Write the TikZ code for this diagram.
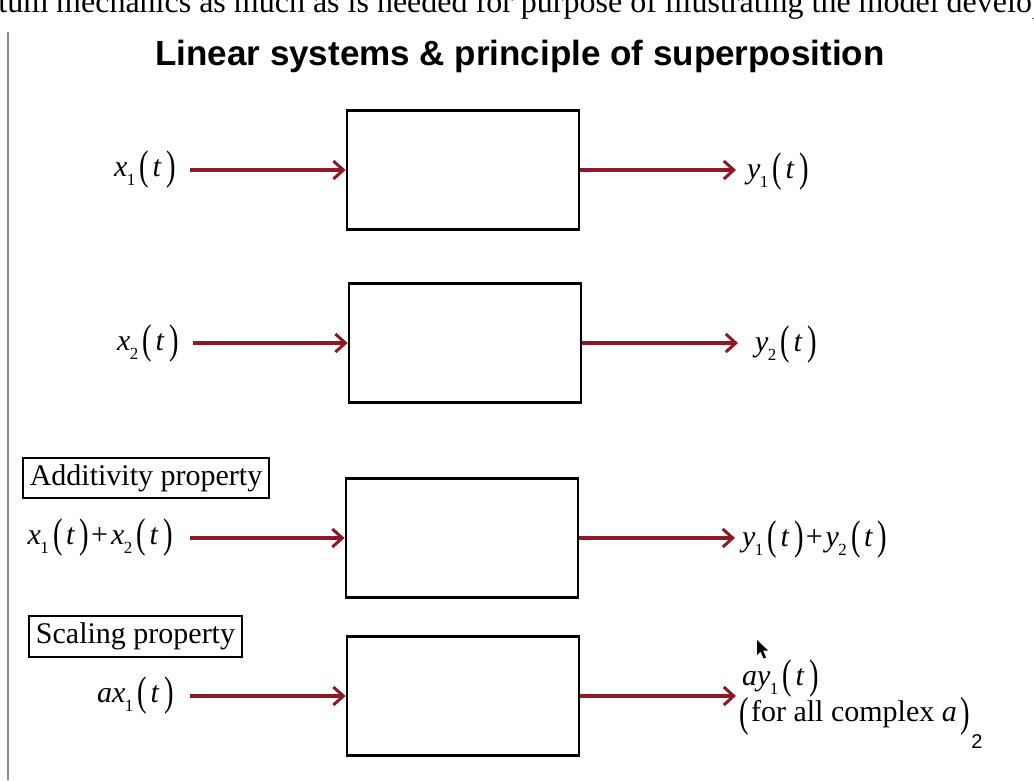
\documentclass[tikz,border=0pt]{standalone}
\usepackage{fontspec}
\usepackage{graphicx}
\setmainfont{Liberation Serif}
\setsansfont{Liberation Sans}
\usetikzlibrary{arrows.meta}
\definecolor{sigred}{HTML}{8B1A26}
\definecolor{edgegray}{HTML}{8A8A8A}
\newcommand{\lpar}{\raisebox{-0.12em}{\scalebox{0.95}[1.38]{(}}}
\newcommand{\rpar}{\raisebox{-0.12em}{\scalebox{0.95}[1.38]{)}}}
\newcommand{\subn}[1]{\raisebox{-0.3em}{\fontsize{17}{17}\selectfont #1}}
\newcommand{\sigf}[2]{\textit{#1}\kern-0.02em\subn{#2}\kern0.14em\lpar\kern0.12em\textit{t}\kern0.16em\rpar}
\newcommand{\plusop}{\kern0.06em+\kern0.1em}
\tikzset{
  sysbox/.style={draw=black, line width=2.8pt, minimum width=232pt, minimum height=119pt, inner sep=0pt},
  proplabel/.style={draw=black, line width=2.2pt, inner sep=0pt, font=\fontsize{30}{30}\selectfont},
  siglabel/.style={inner sep=0pt, font=\fontsize{30}{30}\selectfont},
  sigarrow/.style={draw=sigred, line width=3.6pt, -{Straight Barb[length=10pt,width=18pt,line width=3pt]}},
}
\begin{document}
\begin{tikzpicture}[x=1pt,y=-1pt]
\useasboundingbox (0,0) rectangle (1034,780);
\clip (0,0) rectangle (1034,780);
\fill[white] (0,0) rectangle (1034,780);

% cut-off line of running text at top
\node[anchor=base west, inner sep=0pt, font=\fontsize{32}{32}\selectfont] (toptext) at (-64,12)
  {quantum mechanics as much as is needed for purpose of illustrating the model developed};

% left margin rule
\coordinate (ruletop) at (8,32);
\coordinate (rulebot) at (8,780);
\draw[edgegray, line width=2pt] (ruletop) -- (rulebot);

% title
\node[inner sep=0pt, font=\sffamily\bfseries\fontsize{35}{35}\selectfont] (title) at (520,56)
  {Linear systems \& principle of superposition};

% system boxes
\node[sysbox] (b1) at (463,170) {};
\node[sysbox] (b2) at (465,343) {};
\node[sysbox] (b3) at (462,538) {};
\node[sysbox] (b4) at (463,696) {};

% property labels
\node[proplabel, minimum width=246pt, minimum height=40pt] (addp) at (146,478) {Additivity property};
\node[proplabel, minimum width=213pt, minimum height=41pt] (scalep) at (135.5,636.5) {Scaling property};

% input labels
\node[siglabel, anchor=east] (in1) at (176,170) {\sigf{x}{1}};
\node[siglabel, anchor=east] (in2) at (179,344) {\sigf{x}{2}};
\node[siglabel, anchor=east] (in3) at (173,538) {\sigf{x}{1}\plusop\sigf{x}{2}};
\node[siglabel, anchor=east] (in4) at (174,696) {\textit{a}\sigf{x}{1}};

% arrow start points
\coordinate (s1) at (190,170);
\coordinate (s2) at (193,343);
\coordinate (s3) at (190,538);
\coordinate (s4) at (190,696);
\draw[sigarrow] (s1) -- (b1.west);
\draw[sigarrow] (s2) -- (b2.west);
\draw[sigarrow] (s3) -- (b3.west);
\draw[sigarrow] (s4) -- (b4.west);

% arrow end points
\coordinate (e1) at (736,170);
\coordinate (e2) at (738,343);
\coordinate (e3) at (735,538);
\coordinate (e4) at (736,696);
\draw[sigarrow] (b1.east) -- (e1);
\draw[sigarrow] (b2.east) -- (e2);
\draw[sigarrow] (b3.east) -- (e3);
\draw[sigarrow] (b4.east) -- (e4);

% output labels
\node[siglabel, anchor=west] (out1) at (747,172) {\sigf{y}{1}};
\node[siglabel, anchor=west] (out2) at (755,345) {\sigf{y}{2}};
\node[siglabel, anchor=west] (out3) at (742,540) {\sigf{y}{1}\plusop\sigf{y}{2}};
\node[siglabel, anchor=west] (out4a) at (742,679) {\textit{a}\sigf{y}{1}};
\node[siglabel, anchor=west] (out4b) at (739,716)
  {\raisebox{-0.14em}{\scalebox{0.95}[1.4]{(}}\kern0.08em for all complex \textit{a}\kern0.12em\raisebox{-0.14em}{\scalebox{0.95}[1.4]{)}}};
\node[inner sep=0pt, font=\sffamily\fontsize{20}{20}\selectfont] (pgno) at (977,742) {2};

% mouse pointer
\fill[black] (757,640) -- (757,655) -- (760.5,651.5) -- (763.5,658.5) -- (766,657.5) -- (763,650.5) -- (768,650.5) -- cycle;
\end{tikzpicture}
\end{document}
